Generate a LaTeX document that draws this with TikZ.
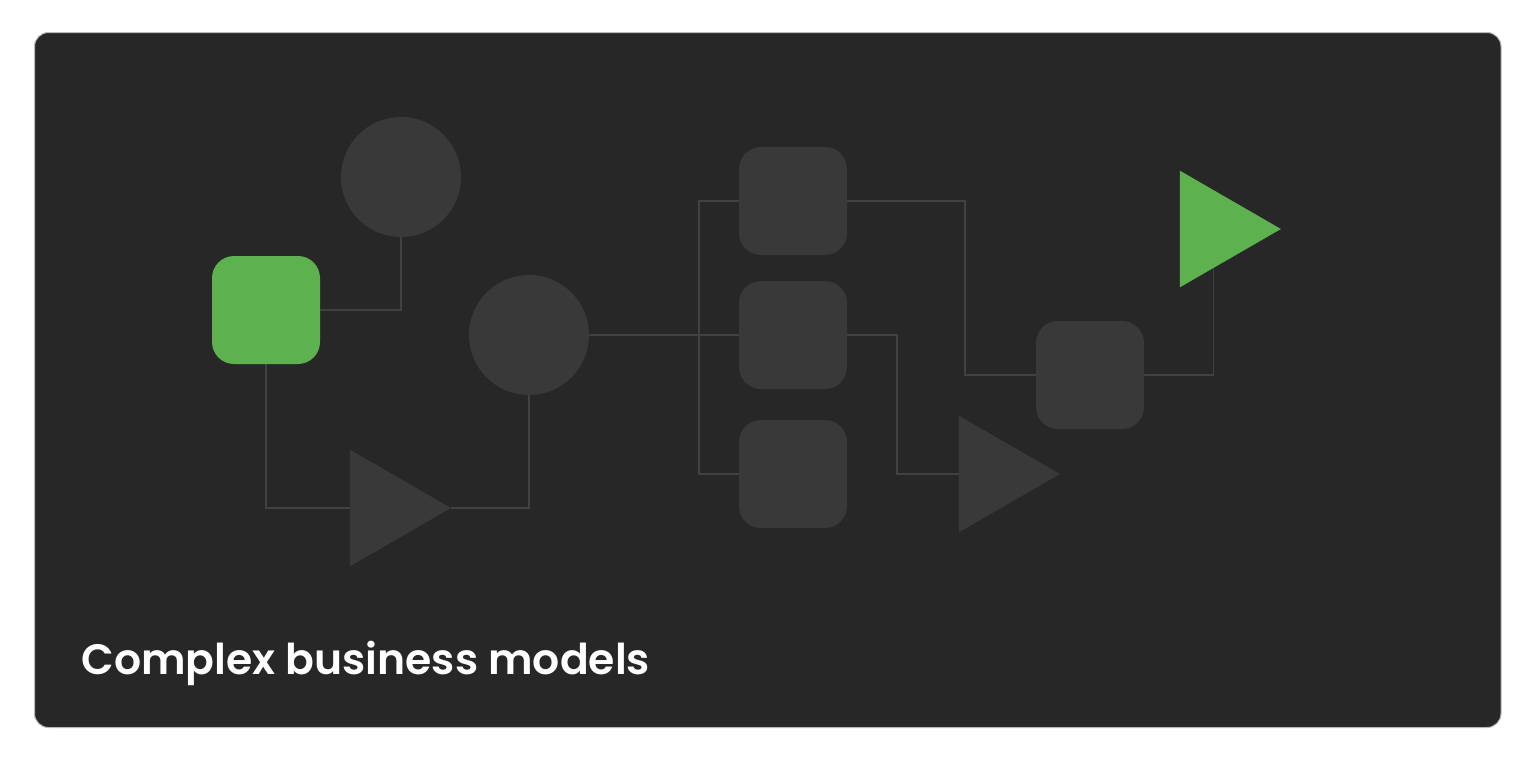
\documentclass[tikz,border=0pt]{standalone}
\usepackage{fontspec}
\setmainfont{Poppins}[BoldFont={Poppins SemiBold}]
\usetikzlibrary{shapes.geometric,backgrounds}

\definecolor{cardbg}{HTML}{272727}
\definecolor{shapegray}{HTML}{393939}
\definecolor{linkgray}{HTML}{414141}
\definecolor{leafgreen}{HTML}{5DB14F}

\begin{document}
\begin{tikzpicture}[
    x=1pt, y=-1pt,
    block/.style={
        rectangle,
        rounded corners=22pt,
        minimum width=108pt,
        minimum height=108pt,
        inner sep=0pt,
        outer sep=0pt,
        fill=shapegray
    },
    ball/.style={
        circle,
        minimum size=120pt,
        inner sep=0pt,
        outer sep=0pt,
        fill=shapegray
    },
    wedge/.style={
        regular polygon,
        regular polygon sides=3,
        shape border rotate=-90,
        minimum size=134.6pt,
        inner sep=0pt,
        outer sep=0pt,
        fill=shapegray
    },
    link/.style={
        draw=linkgray,
        line width=1.5pt
    }
]

\useasboundingbox (0,0) rectangle (1536,761);

% the shapes
\node[block, fill=leafgreen] (start) at (266,310) {};
\node[ball] (topball) at (401,177) {};
\node[ball] (midball) at (529,335) {};
\node[wedge] (lowwedge) at (383.6,508) {};

\node[block] (upper) at (793,201) {};
\node[block] (middle) at (793,335) {};
\node[block] (lower) at (793,474) {};

\node[wedge] (midwedge) at (992.6,474) {};
\node[block] (merge) at (1090,375) {};
\node[wedge, fill=leafgreen] (goal) at (1213.6,229) {};

\node[anchor=base west, text=white, font=\bfseries\fontsize{42.5}{48}\selectfont] (title) at (78,674) {Complex business models};

\coordinate (split) at (699,335);

% card and connectors behind
\begin{scope}[on background layer]
\fill[white] (0,0) rectangle (1536,761);
\draw[fill=cardbg, draw=gray!55, line width=1pt, rounded corners=14pt] (34.5,32.5) rectangle (1501,727.5);

\draw[link] (start.east) -| (topball.south);
\draw[link] (start.south) |- (lowwedge);
\draw[link] (lowwedge) -| (midball.south);
\draw[link] (midball.east) -- (middle);
\draw[link] (split) |- (upper);
\draw[link] (split) |- (lower);
\draw[link] (upper.east) -- ++(118,0) |- (merge);
\draw[link] (middle.east) -- ++(50,0) |- (midwedge);
\draw[link] (merge.east) -| (goal);
\end{scope}

\end{tikzpicture}
\end{document}
